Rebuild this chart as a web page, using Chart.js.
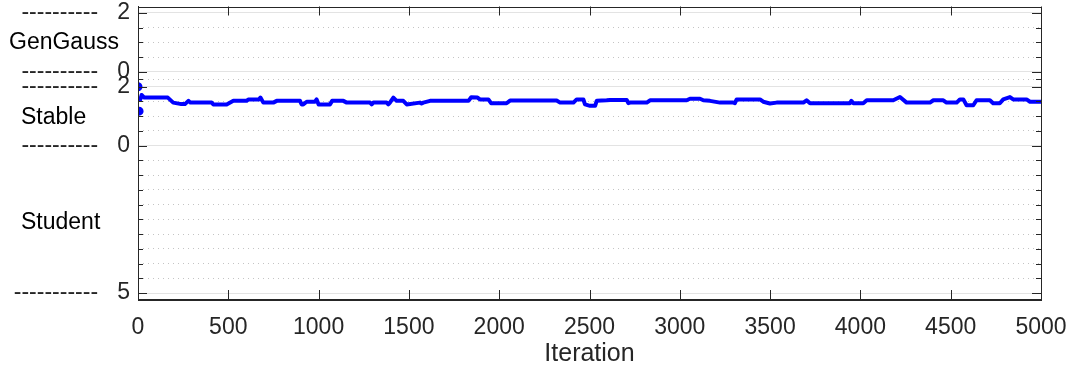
<!DOCTYPE html>
<html>
<head>
<meta charset="utf-8">
<script src="https://cdn.jsdelivr.net/npm/chart.js@4/dist/chart.umd.min.js"></script>
<style>
  html, body { margin: 0; padding: 0; background: #ffffff; }
  #wrap { width: 1070px; height: 372px; }
</style>
</head>
<body>
<div id="wrap"><canvas id="c" width="1070" height="372"></canvas></div>
<script>
// ---- data (Stable alpha trace) ----
const iterations = [0, 6, 12, 20, 35, 165, 195, 240, 260, 279, 290, 408, 417, 491, 528, 602, 611, 670, 678, 694,
  749, 768, 897, 906, 915, 934, 980, 989, 1000, 1063, 1075, 1137, 1156, 1285, 1294, 1303, 1377, 1386, 1395, 1414,
  1432, 1469, 1488, 1561, 1570, 1580, 1617, 1830, 1845, 1880, 1893, 1940, 1955, 2041, 2060, 2318, 2337, 2411, 2429, 2466,
  2475, 2503, 2531, 2540, 2595, 2614, 2706, 2715, 2725, 2817, 2835, 3038, 3056, 3112, 3130, 3167, 3223, 3296, 3305, 3315,
  3444, 3462, 3499, 3536, 3684, 3702, 3721, 3942, 3950, 3961, 4016, 4035, 4182, 4219, 4256, 4385, 4404, 4459, 4477, 4533,
  4551, 4570, 4588, 4625, 4643, 4717, 4735, 4772, 4791, 4828, 4846, 4920, 4939, 5000];
const stableAlpha = [2.00, 1.17, 1.55, 1.72, 1.63, 1.63, 1.46, 1.41, 1.41, 1.52, 1.46, 1.46, 1.40, 1.40, 1.52, 1.52, 1.57, 1.57, 1.63, 1.46,
  1.46, 1.52, 1.52, 1.40, 1.40, 1.49, 1.49, 1.57, 1.40, 1.40, 1.52, 1.52, 1.46, 1.46, 1.40, 1.46, 1.46, 1.40, 1.46, 1.63,
  1.52, 1.52, 1.40, 1.46, 1.43, 1.46, 1.52, 1.52, 1.64, 1.63, 1.57, 1.57, 1.44, 1.44, 1.53, 1.53, 1.46, 1.46, 1.57, 1.57,
  1.40, 1.35, 1.35, 1.52, 1.54, 1.55, 1.55, 1.44, 1.46, 1.46, 1.54, 1.54, 1.59, 1.59, 1.54, 1.52, 1.46, 1.46, 1.44, 1.57,
  1.57, 1.49, 1.43, 1.46, 1.46, 1.54, 1.44, 1.44, 1.52, 1.44, 1.44, 1.54, 1.54, 1.65, 1.46, 1.46, 1.54, 1.54, 1.46, 1.46,
  1.57, 1.57, 1.37, 1.37, 1.54, 1.54, 1.44, 1.44, 1.57, 1.65, 1.57, 1.57, 1.49, 1.49];

// x ticks
const xTicks = [0, 500, 1000, 1500, 2000, 2500, 3000, 3500, 4000, 4500, 5000];

// y axis: stacked panels (GenGauss on top, Stable in the middle, Student reversed below)
const yMajorTicks = [4.5, 2.5, 2.0, 0.0, -5.0];
const yMajorLabels = ['----------   2', '----------   0', '----------   2', '----------   0', '-----------   5'];
const yMinorTicks = [4.0, 3.5, 3.0, 2.25, 1.5, 1.0, 0.5, -0.5, -1.0, -1.5, -2.0, -2.5, -3.0, -3.5, -4.0, -4.5];
const sectionNames = ['GenGauss', 'Stable', 'Student'];
const sectionCenters = [3.5, 0.95, -2.6];

const axisColor = '#262626';
const FONT = "'Liberation Sans', Arial, Helvetica, sans-serif";

const points = iterations.map((x, i) => ({ x: x, y: stableAlpha[i] }));

const frameAndTicks = {
  id: 'frameAndTicks',
  afterDraw(chart) {
    const { ctx, chartArea: a, scales } = chart;
    const y = scales.y, x = scales.x;
    ctx.save();
    ctx.strokeStyle = axisColor;
    ctx.lineWidth = 1;
    ctx.beginPath();
    yMajorTicks.forEach(v => {
      const p = Math.round(y.getPixelForValue(v)) + 0.5;
      ctx.moveTo(a.left, p); ctx.lineTo(a.left + 9, p);
      ctx.moveTo(a.right, p); ctx.lineTo(a.right - 9, p);
    });
    yMinorTicks.forEach(v => {
      const p = Math.round(y.getPixelForValue(v)) + 0.5;
      ctx.moveTo(a.left, p); ctx.lineTo(a.left + 5, p);
      ctx.moveTo(a.right, p); ctx.lineTo(a.right - 5, p);
    });
    xTicks.forEach(v => {
      const p = Math.round(x.getPixelForValue(v)) + 0.5;
      ctx.moveTo(p, a.bottom); ctx.lineTo(p, a.bottom - 9);
      ctx.moveTo(p, a.top); ctx.lineTo(p, a.top + 9);
    });
    ctx.stroke();
    ctx.strokeRect(Math.round(a.left) + 0.5, Math.round(a.top) + 0.5,
      Math.round(a.right - a.left), Math.round(a.bottom - a.top));
    ctx.fillStyle = '#000000';
    ctx.font = "23px " + FONT;
    ctx.textBaseline = 'middle';
    ctx.textAlign = 'left';
    const lefts = [9, 21, 21];
    sectionNames.forEach((n, i) => {
      ctx.fillText(n, lefts[i], y.getPixelForValue(sectionCenters[i]));
    });
    ctx.restore();
  }
};

new Chart(document.getElementById('c'), {
  type: 'line',
  data: {
    datasets: [{
      data: points,
      borderColor: '#0000ff',
      backgroundColor: '#0000ff',
      borderWidth: 4,
      borderJoinStyle: 'round',
      borderCapStyle: 'round',
      pointRadius: ctx => (ctx.dataIndex < 2 ? 2.5 : 0),
      pointHoverRadius: 0,
      tension: 0,
      segment: {
        borderColor: ctx => (ctx.p0DataIndex < 2 ? 'rgba(0,0,0,0)' : '#0000ff')
      }
    }]
  },
  options: {
    responsive: false,
    devicePixelRatio: 1,
    animation: false,
    events: [],
    layout: { padding: { top: 5, right: 29, left: 0, bottom: 0 } },
    plugins: { legend: { display: false }, tooltip: { enabled: false } },
    scales: {
      x: {
        type: 'linear',
        min: 0, max: 5000,
        afterBuildTicks: s => { s.ticks = xTicks.map(v => ({ value: v })); },
        afterFit: s => { s.height = 73; s.paddingLeft = 0; s.paddingRight = 0; },
        grid: { display: false, drawTicks: false },
        border: { display: true, color: axisColor },
        ticks: { color: axisColor, font: { family: FONT, size: 23 }, padding: 15, maxRotation: 0,
                 callback: v => String(v) },
        title: { display: true, text: 'Iteration', color: axisColor,
                 font: { family: FONT, size: 25 }, padding: { top: 0, bottom: 3 } }
      },
      y: {
        type: 'linear',
        min: -5.2, max: 4.72,
        afterBuildTicks: s => { s.ticks = yMajorTicks.map(v => ({ value: v })); },
        afterFit: s => { s.width = 138; s.paddingTop = 0; s.paddingBottom = 0; },
        grid: { color: '#e3e3e3', drawTicks: false, lineWidth: 1 },
        border: { display: true, color: axisColor },
        ticks: {
          color: axisColor, font: { family: FONT, size: 23 }, padding: 8,
          callback: (v, i) => yMajorLabels[i]
        }
      },
      yMinor: {
        type: 'linear', position: 'left',
        min: -5.2, max: 4.72,
        afterBuildTicks: s => { s.ticks = yMinorTicks.map(v => ({ value: v })); },
        afterFit: s => { s.width = 0; s.paddingTop = 0; s.paddingBottom = 0; },
        grid: { color: '#c4c4c4', drawTicks: false, lineWidth: 1 },
        border: { display: false, dash: [1, 4] },
        ticks: { display: false }
      }
    }
  },
  plugins: [frameAndTicks]
});
</script>
</body>
</html>
